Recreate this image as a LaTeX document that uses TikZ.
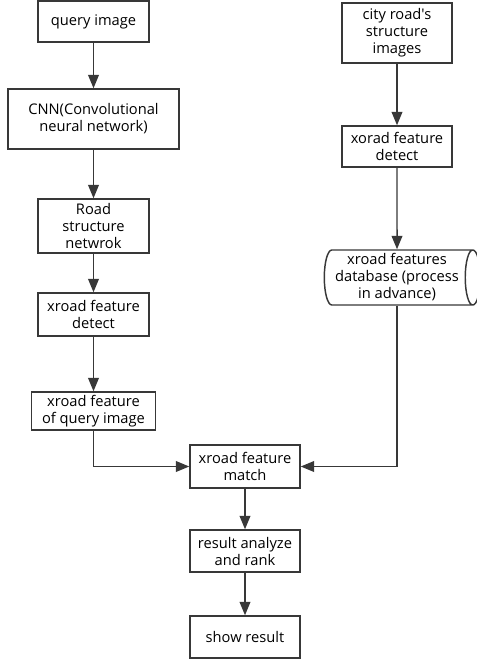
\documentclass[tikz,border=0pt]{standalone}
\usepackage{fontspec}
\setmainfont[Ligatures=TeXOff]{Open Sans}
\usepackage{tikz}
\usetikzlibrary{shapes.geometric}
\usetikzlibrary{arrows.meta}

\begin{document}
\begin{tikzpicture}[x=0.75pt,y=-0.75pt,
        box/.style={draw=black!78,line width=1.1pt,align=center,inner sep=1pt,
            font=\fontsize{11}{12.75}\selectfont},
        size/.style 2 args={minimum width={#1*0.75pt},minimum height={#2*0.75pt}},
        flow/.style={draw=black!78,line width=1.1pt,-{Triangle[length=10pt,width=8pt]}}]
        \useasboundingbox (0,0) rectangle (476,663);

        % left column
        \node[box,size={111}{41}] (query) at (93.5,21.5) {query image};
        \node[box,size={171}{60}] (cnn) at (93.5,119) {CNN(Convolutional\\neural network)};
        \node[box,size={111}{54}] (road) at (93.5,226) {Road\\structure\\netwrok};
        \node[box,size={111}{43}] (detleft) at (93.5,314.5) {xroad feature\\detect};
        \node[box,size={124}{38}] (featquery) at (93.5,411) {xroad feature\\of query image};

        % right column
        \node[box,size={110}{60}] (city) at (397,33) {city road's\\structure\\images};
        \node[box,size={110}{41}] (detright) at (397,146.5) {xorad feature\\detect};
        \node[box,cylinder,shape aspect=0.3,size={55}{156}] (db) at (397,277.5)
            {xroad features\\database (process\\in advance)};

        % bottom column
        \node[box,size={110}{43}] (match) at (245,466.5) {xroad feature\\match};
        \node[box,size={110}{42}] (rank) at (245,551) {result analyze\\and rank};
        \node[box,size={110}{42}] (show) at (245,637) {show result};

        \draw[flow] (query) -- (cnn);
        \draw[flow] (cnn) -- (road);
        \draw[flow] (road) -- (detleft);
        \draw[flow] (detleft) -- (featquery);
        \draw[flow] (featquery.south) |- (match.west);
        \draw[flow] (city) -- (detright);
        \draw[flow] (detright) -- (db);
        \draw[flow] (db.south) |- (match.east);
        \draw[flow] (match) -- (rank);
        \draw[flow] (rank) -- (show);
    \end{tikzpicture}
\end{document}
